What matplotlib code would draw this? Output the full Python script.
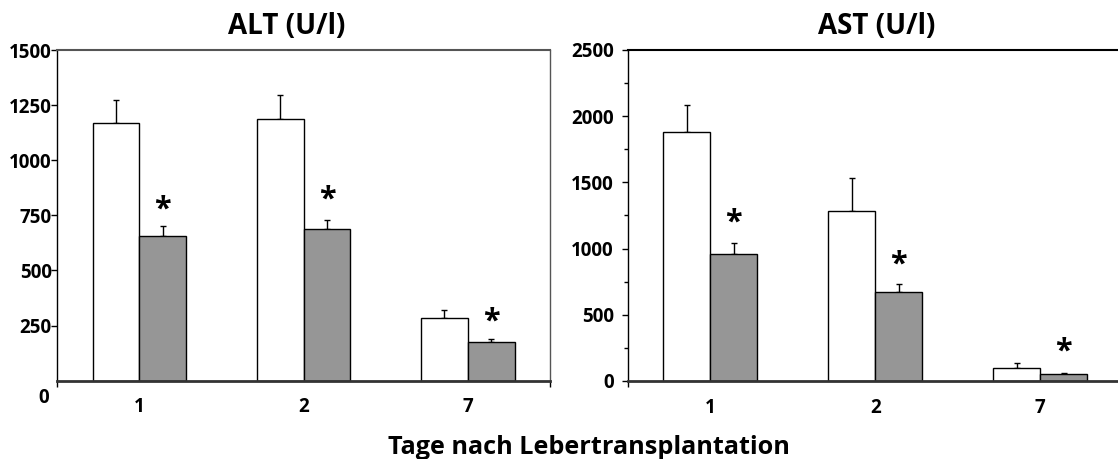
import numpy as np
import matplotlib
matplotlib.use("Agg")
import matplotlib.pyplot as plt
from matplotlib.ticker import FixedLocator, MultipleLocator

plt.rcParams['font.family'] = ['Open Sans', 'DejaVu Sans']
plt.rcParams['font.weight'] = 'bold'

days = ["1", "2", "7"]

# ALT (U/l): control (white) vs treated (grey), mean and upper SEM
alt_ctrl = [1170, 1186, 283]
alt_ctrl_err = [103, 109, 38]
alt_trt = [655, 687, 174]
alt_trt_err = [45, 40, 13]
alt_star = [805, 850, 298]

# AST (U/l)
ast_ctrl = [1883, 1281, 101]
ast_ctrl_err = [202, 255, 32]
ast_trt = [959, 672, 51]
ast_trt_err = [81, 61, 8]
ast_star = [1241, 926, 270]

W, H = 1118, 459
fig = plt.figure(figsize=(W / 100, H / 100), dpi=100)


def px_axes(x0, y0, x1, y1):
    # axes box given in pixel coords (origin top-left)
    return fig.add_axes([x0 / W, (H - y1) / H, (x1 - x0) / W, (y1 - y0) / H])


def draw_panel(ax, ctrl, ctrl_err, trt, trt_err, star, ymax, step):
    x = np.arange(len(days))
    w = 0.285
    zeros = np.zeros(len(days))
    ax.bar(x - w / 2, ctrl, w, color="white", edgecolor="black", linewidth=1, zorder=2)
    ax.bar(x + w / 2, trt, w, color="#969696", edgecolor="black", linewidth=1, zorder=2)
    ax.errorbar(x - w / 2, ctrl, yerr=[zeros, ctrl_err], fmt="none", ecolor="black",
                elinewidth=1, capsize=2.5, capthick=1, zorder=1)
    ax.errorbar(x + w / 2, trt, yerr=[zeros, trt_err], fmt="none", ecolor="black",
                elinewidth=1, capsize=2.5, capthick=1, zorder=1)
    # significance marks; the glyph sits high in its box, so nudge it down
    for xi, yi in zip(x + w / 2, star):
        ax.annotate("*", (xi, yi), xytext=(0, -4.5), textcoords="offset points",
                    ha="center", va="center", fontsize=22, fontweight="bold")

    ax.set_xlim(-0.5, 2.5)
    ax.set_ylim(0, ymax)
    ax.set_xticks(x)
    ax.set_xticklabels(days)
    ax.xaxis.set_minor_locator(FixedLocator([-0.5, 2.5]))
    ax.tick_params(axis="x", which="major", length=0, pad=12, labelsize=13.5)
    ax.tick_params(axis="x", which="minor", length=4, width=1, direction="out")
    ax.yaxis.set_major_locator(MultipleLocator(step))
    ax.tick_params(axis="y", which="major", length=4, width=1, labelsize=13.5)

    ax.spines["bottom"].set_linewidth(2)
    ax.spines["bottom"].set_color("#333333")
    ax.spines["left"].set_linewidth(1)
    ax.spines["left"].set_color("black")
    ax.spines["top"].set_linewidth(1.5)
    ax.spines["right"].set_linewidth(1)
    ax.spines["right"].set_color("#555555")


ax1 = px_axes(57.3, 50, 550, 380.7)
draw_panel(ax1, alt_ctrl, alt_ctrl_err, alt_trt, alt_trt_err, alt_star, 1500, 250)
ax1.spines["top"].set_color("#555555")
ax1.set_yticks([250, 500, 750, 1000, 1250, 1500])
ax1.tick_params(axis="y", pad=0)
fig.text(43.7 / W, (H - 398) / H, "0", ha="center", va="center", fontsize=13.5, fontweight="bold")

ax2 = px_axes(627.7, 50, 627.7 + 3 * 165, 381)
draw_panel(ax2, ast_ctrl, ast_ctrl_err, ast_trt, ast_trt_err, ast_star, 2500, 500)
ax2.yaxis.set_minor_locator(MultipleLocator(250))
ax2.tick_params(axis="y", which="minor", length=3, width=1)
ax2.tick_params(axis="y", which="major", pad=6)

fig.text(287 / W, (H - 34.3) / H, "ALT (U/l)", ha="center", va="baseline", fontsize=20, fontweight="bold")
fig.text(876.5 / W, (H - 34.3) / H, "AST (U/l)", ha="center", va="baseline", fontsize=20, fontweight="bold")
fig.text(589 / W, (H - 454) / H, "Tage nach Lebertransplantation", ha="center", va="baseline",
         fontsize=18.2, fontweight="bold")

fig.savefig("out.png", dpi=100)
